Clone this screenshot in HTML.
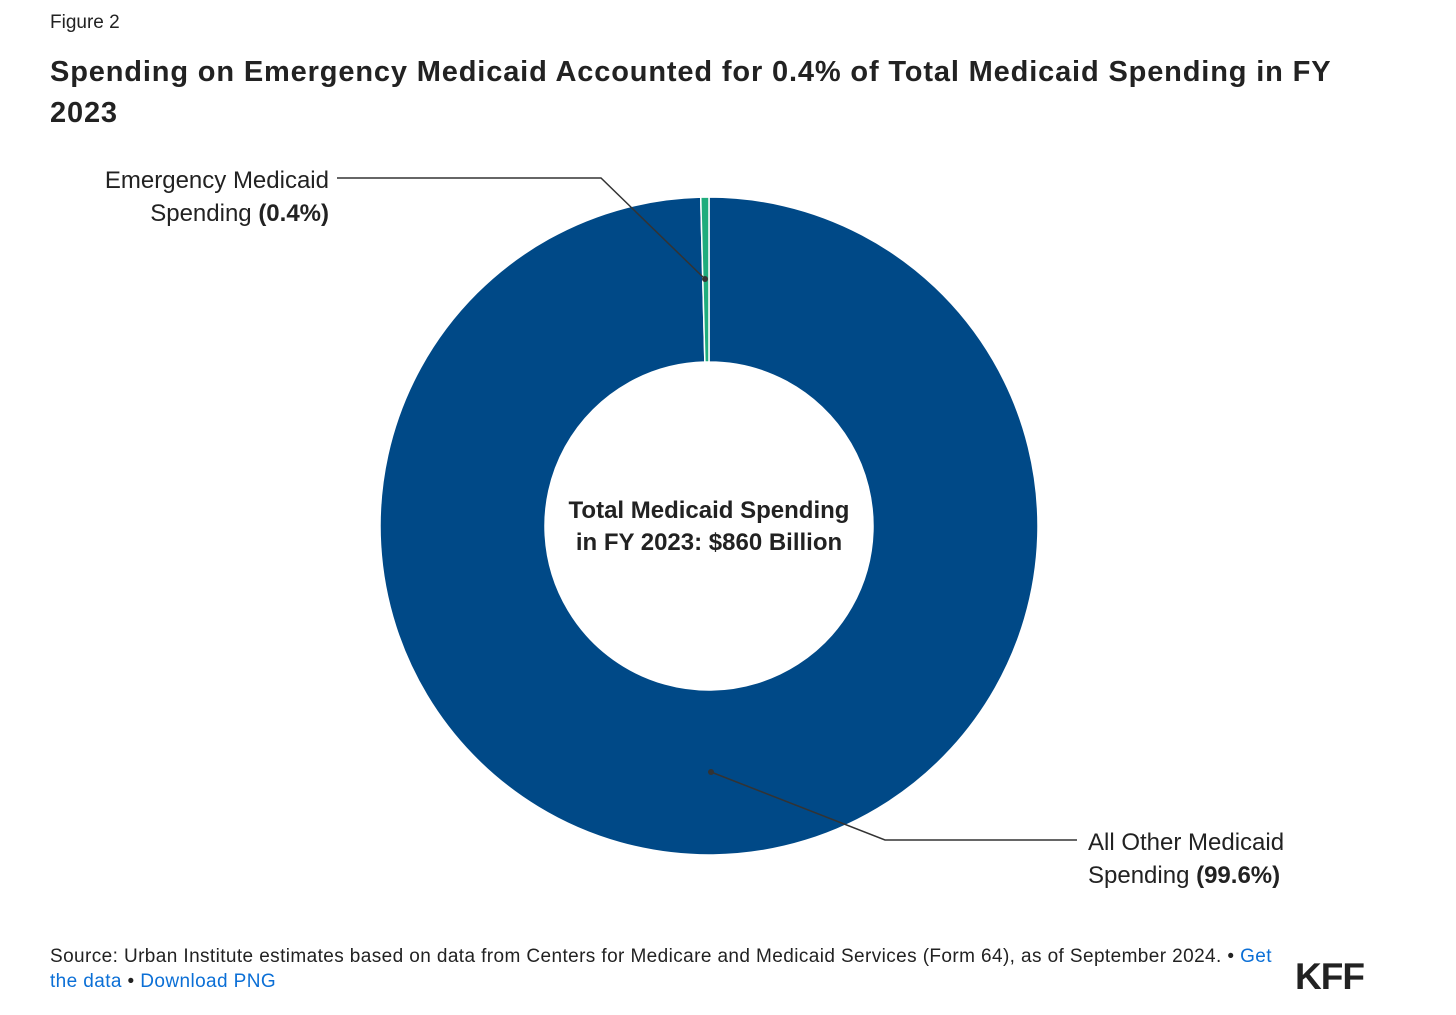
<!DOCTYPE html>
<html><head><meta charset="utf-8"><style>
body{margin:0;width:1456px;height:1015px;background:#fff;font-family:"Liberation Sans",sans-serif;color:#222;position:relative;overflow:hidden}
.abs{position:absolute}
</style></head><body>
<div class="abs" style="left:50px;top:12px;font-size:19px;">Figure 2</div>
<div class="abs" style="left:50px;top:52px;width:1390px;font-size:29px;font-weight:bold;line-height:41px;color:#222;letter-spacing:0.85px">Spending on Emergency Medicaid Accounted for 0.4% of Total Medicaid Spending in FY<br>2023</div>
<svg class="abs" style="left:0;top:0" width="1456" height="1015">
<g id="slices"></g>
<text x="709" y="518" text-anchor="middle" font-size="24" font-weight="bold" fill="#222">Total Medicaid Spending</text>
<text x="709" y="550" text-anchor="middle" font-size="24" font-weight="bold" fill="#222">in FY 2023: $860 Billion</text>
<polyline points="705,279 601,178 337,178" fill="none" stroke="#333" stroke-width="1.5"/>
<circle cx="705" cy="279" r="3" fill="#333"/>
<polyline points="711,772 885,840 1077,840" fill="none" stroke="#333" stroke-width="1.5"/>
<circle cx="711" cy="772" r="3" fill="#333"/>
<text x="329" y="188" text-anchor="end" font-size="24" fill="#222">Emergency Medicaid</text>
<text x="329" y="221" text-anchor="end" font-size="24" fill="#222">Spending <tspan font-weight="bold">(0.4%)</tspan></text>
<text x="1088" y="850" font-size="24" fill="#222">All Other Medicaid</text>
<text x="1088" y="883" font-size="24" fill="#222">Spending <tspan font-weight="bold">(99.6%)</tspan></text>
</svg>
<div class="abs" style="left:50px;top:944px;width:1350px;font-size:19px;line-height:25px;color:#222;letter-spacing:0.4px">Source: Urban Institute estimates based on data from Centers for Medicare and Medicaid Services (Form 64), as of September 2024. • <span style="color:#0b6fd6">Get<br>the data</span> • <span style="color:#0b6fd6">Download PNG</span></div>
<div class="abs" style="left:1295px;top:956px;font-size:37px;font-weight:bold;color:#222;letter-spacing:-1px">KFF</div>
<script>
const categories=["All Other Medicaid Spending","Emergency Medicaid Spending"];
const values=[99.6,0.4];
const colors=["#004987","#1fac7d"];
const cx=709,cy=526,R=329,r=164;
const g=document.getElementById('slices');
const total=values.reduce((a,b)=>a+b,0);
let a0=0;
function pt(a,rad){return [cx+rad*Math.sin(a),cy-rad*Math.cos(a)];}
values.forEach((v,i)=>{
  const a1=a0+v/total*2*Math.PI;
  const large=(a1-a0)>Math.PI?1:0;
  const p1=pt(a0,R),p2=pt(a1,R),p3=pt(a1,r),p4=pt(a0,r);
  const p=document.createElementNS('http://www.w3.org/2000/svg','path');
  p.setAttribute('d',`M${p1[0]},${p1[1]} A${R},${R} 0 ${large} 1 ${p2[0]},${p2[1]} L${p3[0]},${p3[1]} A${r},${r} 0 ${large} 0 ${p4[0]},${p4[1]} Z`);
  p.setAttribute('fill',colors[i]);
  p.setAttribute('stroke','#fff');
  p.setAttribute('stroke-width','1.5');
  
  
  g.appendChild(p);
  a0=a1;
});
</script>
</body></html>
